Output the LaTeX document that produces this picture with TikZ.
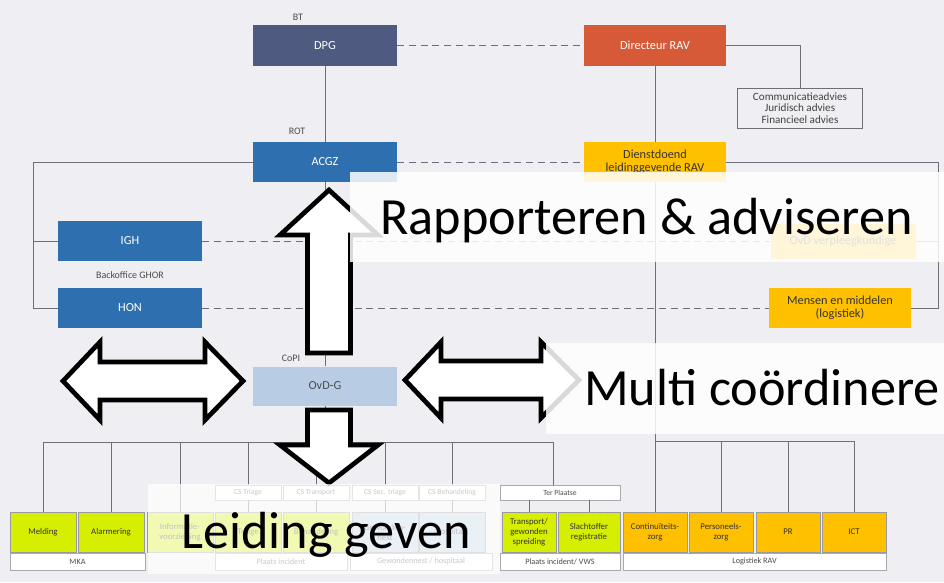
\documentclass[tikz,border=0pt]{standalone}
\usepackage{fontspec}
\setmainfont{Carlito}
\usepackage{tikz}
\usetikzlibrary{positioning,calc}
\usepackage{xcolor}

\definecolor{bgcol}{RGB}{239,239,243}
\definecolor{dpgcol}{RGB}{79,90,128}
\definecolor{ravcol}{RGB}{214,90,56}
\definecolor{ghorcol}{RGB}{46,111,176}
\definecolor{copicol}{RGB}{184,205,228}
\definecolor{ravyel}{RGB}{255,192,0}
\definecolor{mkagreen}{RGB}{214,238,0}
\definecolor{linecol}{RGB}{110,110,120}

\begin{document}
\begin{tikzpicture}[
	  x=0.03cm,y=-0.03cm,
	  every node/.style={align=center,font=\fontsize{10.5}{11}\selectfont,inner sep=1pt},
	  dpgbox/.style={fill=dpgcol,text=white,minimum width=4.32cm,minimum height=1.23cm},
	  ravtop/.style={fill=ravcol,text=white,minimum width=4.26cm,minimum height=1.23cm},
	  ghorbox/.style={fill=ghorcol,text=white,minimum width=4.32cm,minimum height=1.2cm},
	  copibox/.style={fill=copicol,text=black!70,minimum width=4.32cm,minimum height=1.17cm},
	  ravbox/.style={fill=ravyel,text=black!80,minimum width=4.26cm,minimum height=1.2cm},
	  staffbox/.style={draw=linecol,text=black!75,minimum width=3.75cm,minimum height=1.2cm,font=\fontsize{9.5}{10}\selectfont},
	  mkaunit/.style={fill=mkagreen,draw=linecol!70,text=black!80,minimum width=1.98cm,minimum height=1.2cm,font=\fontsize{7.5}{8.5}\selectfont},
	  copiunit/.style={mkaunit,fill=copicol},
	  ravunit/.style={mkaunit,fill=ravyel,minimum width=1.92cm},
	  subbox/.style={fill=white,draw=linecol!60,text=black!70,minimum width=1.98cm,minimum height=0.45cm,font=\fontsize{6.5}{7}\selectfont},
	  groupbar/.style={fill=white,draw=linecol!60,text=black!70,minimum height=0.5cm,font=\fontsize{7}{8}\selectfont},
	  caption/.style={text=black!70,font=\fontsize{8.5}{9}\selectfont},
	  link/.style={draw=linecol,line width=0.6pt},
	  peer/.style={draw=linecol,line width=0.6pt,dash pattern=on 6pt off 4pt},
	  fatarrow/.style={draw=black,fill=white,line width=4pt,line join=miter},
	  veil/.style={fill=white,fill opacity=0.85},
	  slogan/.style={anchor=base west,inner sep=0pt,text=black,font=\fontsize{44.6}{50}\selectfont}]

	  \useasboundingbox (0,0) rectangle (944,582);
	  \fill[bgcol] (0,0) rectangle (944,582);

	  % top of the chart
	  \node[dpgbox] (dpg) at (325,45.5) {DPG};
	  \node[caption] (bt) at (298,17) {BT};
	  \node[ravtop] (drav) at (655,45.5) {Directeur RAV};
	  \node[staffbox] (staff) at (800,108) {Communicatieadvies\\Juridisch advies\\Financieel advies};
	  \node[ghorbox] (acgz) at (325,162) {ACGZ};
	  \node[caption] (rot) at (297,131) {ROT};
	  \node[ravbox] (ddl) at (655,162) {Dienstdoend\\leidinggevende RAV};
	  \node[ghorbox] (igh) at (130,241) {IGH};
	  \node[caption] (backoffice) at (130,275) {Backoffice GHOR};
	  \node[ghorbox] (hon) at (130,308) {HON};
	  \node[ravbox,minimum width=4.35cm,minimum height=1.05cm] (ovdv) at (843,241) {OvD verpleegkundige};
	  \node[ravbox] (mm) at (840,308) {Mensen en middelen\\(logistiek)};
	  \node[copibox] (ovdg) at (325,386) {OvD-G};
	  \node[caption] (copi) at (291,358) {CoPI};

	  % bottom row
	  \node[mkaunit] (melding) at (43,532) {Melding};
	  \node[mkaunit] (alarm) at (111,532) {Alarmering};
	  \node[mkaunit] (info) at (180,532) {Informatie-\\voorziening};
	  \node[mkaunit] (triage) at (248,532) {Triage};
	  \node[mkaunit] (behandel) at (316,532) {Behandeling};
	  \node[copiunit] (gnest) at (385,532) {Gewonden-\\nest};
	  \node[copiunit] (hosp) at (452,532) {Hospitaal};
	  \node[mkaunit,minimum width=1.62cm] (spreiding) at (529,532) {Transport/\\gewonden\\spreiding};
	  \node[mkaunit,minimum width=1.86cm] (registratie) at (589,532) {Slachtoffer\\registratie};
	  \node[ravunit] (continu) at (655,532) {Continuïteits-\\zorg};
	  \node[ravunit] (personeel) at (721,532) {Personeels-\\zorg};
	  \node[ravunit] (pr) at (788,532) {PR};
	  \node[ravunit] (ict) at (854,532) {ICT};

	  \node[subbox] (cstriage) at (248,492.5) {CS Triage};
	  \node[subbox] (cstransport) at (316,492.5) {CS Transport};
	  \node[subbox] (cssec) at (385,492.5) {CS Sec. triage};
	  \node[subbox] (csbehandel) at (452,492.5) {CS Behandeling};
	  \node[subbox,minimum width=3.6cm] (terplaatse) at (560,492.5) {Ter Plaatse};

	  \node[groupbar,minimum width=4.05cm] (mka) at (77.5,561.5) {MKA};
	  \node[groupbar,minimum width=3.96cm] (plaats) at (281,561.5) {Plaats incident};
	  \node[groupbar,minimum width=4.26cm] (gwn) at (421,561.5) {Gewondennest / hospitaal};
	  \node[groupbar,minimum width=3.6cm] (vws) at (560,561.5) {Plaats incident/ VWS};
	  \node[groupbar,minimum width=7.89cm] (lograv) at (754.5,561.5) {Logistiek RAV};

	  \coordinate (lspine) at (33,241);
	  \coordinate (rspine) at (938,241);
	  \coordinate (bus) at (0,442);
	  \coordinate (busend) at (553,442);
	  \coordinate (ravbus) at (0,441);

	  \draw[link] (dpg) -- (acgz);
	  \draw[peer] (dpg) -- (drav);
	  \draw[link] (drav) -- (ddl);
	  \draw[link] (drav.east) -| (staff.north);
	  \draw[peer] (acgz) -- (ddl);
	  \draw[link] (acgz.west) -| (lspine |- hon) -- (hon.west);
	  \draw[link] (lspine) -- (igh.west);
	  \draw[peer] (igh) -- (ovdv);
	  \draw[peer] (hon) -- (mm);
	  \draw[link] (ddl.east) -| (rspine |- mm) -- (mm.east);
	  \draw[link] (rspine) -- (ovdv.east);
	  \draw[link] (acgz) -- (ovdg);
	  \draw[link] (ovdg) -- (ovdg |- bus);
	  \draw[link] (melding.north |- bus) -- (busend) -- (terplaatse.north -| busend);
	  \foreach \unitname in {melding,alarm,info,cstriage,cstransport,cssec,csbehandel}
	    \draw[link] (\unitname.north) -- (\unitname.north |- bus);
	  \foreach \unitname/\subname in {triage/cstriage,behandel/cstransport,gnest/cssec,hosp/csbehandel}
	    \draw[link] (\unitname.north) -- (\subname.south);
	  \foreach \unitname in {spreiding,registratie}
	    \draw[link] (\unitname.north) -- (\unitname.north |- terplaatse.south);
	  \draw[link] (ddl) -- (continu);
	  \draw[link] (continu.north |- ravbus) -| (ict.north);
	  \foreach \unitname in {personeel,pr}
	    \draw[link] (\unitname.north) -- (\unitname.north |- ravbus);

	  % big arrows
	  \draw[fatarrow] (307.5,353) -- (307.5,235) -- (280,235) -- (329,190) -- (378,235) -- (350.5,235) -- (350.5,353) -- cycle;
	  \draw[fatarrow] (307.5,410) -- (350.5,410) -- (350.5,445) -- (378,445) -- (329,483) -- (280,445) -- (307.5,445) -- cycle;
	  \draw[fatarrow] (63,381) -- (100,342) -- (100,362) -- (205,362) -- (205,342) -- (243,381) -- (205,420) -- (205,400) -- (100,400) -- (100,420) -- cycle;
	  \draw[fatarrow] (405,380) -- (441,342) -- (441,361) -- (541,361) -- (541,342) -- (579,380) -- (541,418) -- (541,399) -- (441,399) -- (441,418) -- cycle;

	  \fill[veil] (350,172) rectangle (944,262);
	  \fill[veil] (546,343) rectangle (944,434);
	  \fill[veil,fill opacity=0.7] (148,484) rectangle (500,574);

	  \node[slogan] (report) at (380,234) {Rapporteren \& adviseren};
	  \node[slogan] (multi) at (584,405) {Multi coördinere};
	  \node[slogan] (lead) at (181,548) {Leiding geven};

\end{tikzpicture}
\end{document}
